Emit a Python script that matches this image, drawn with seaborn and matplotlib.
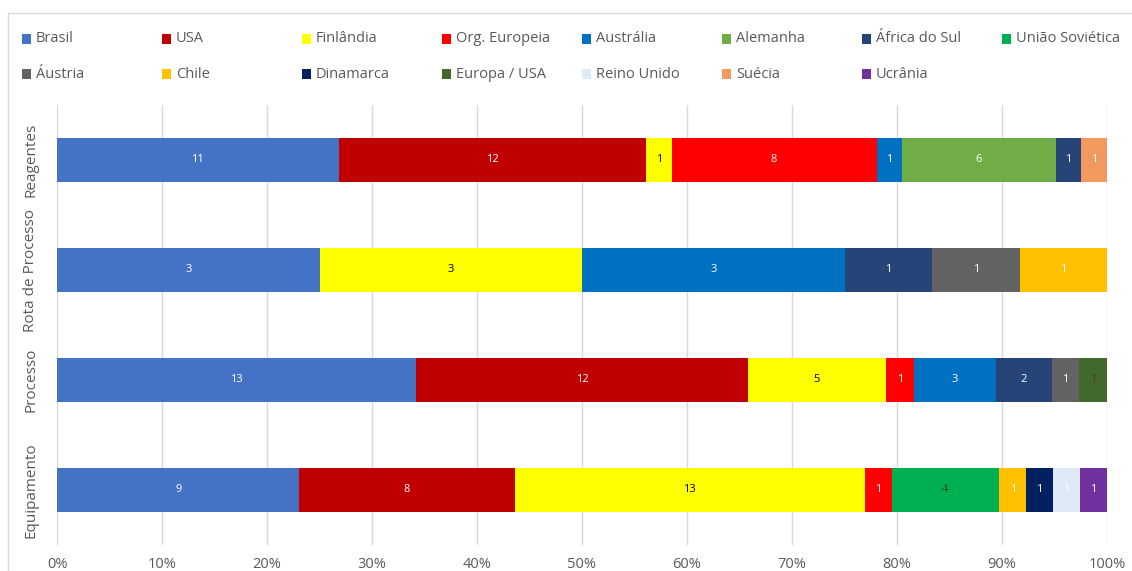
import numpy as np
import pandas as pd
import matplotlib
matplotlib.use("Agg")
import matplotlib.pyplot as plt
from matplotlib.patches import Rectangle
from matplotlib.lines import Line2D
from matplotlib.ticker import PercentFormatter
import seaborn as sns

# Categories (top to bottom)
categories = ["Reagentes", "Rota de Processo", "Processo", "Equipamento"]

# Counts per origin, in category order
brasil = [11, 3, 13, 9]
usa = [12, 0, 12, 8]
finlandia = [1, 3, 5, 13]
org_europeia = [8, 0, 1, 1]
australia = [1, 3, 3, 0]
alemanha = [6, 0, 0, 0]
africa_do_sul = [1, 1, 2, 0]
uniao_sovietica = [0, 0, 0, 4]
austria = [0, 1, 1, 0]
chile = [0, 1, 0, 1]
dinamarca = [0, 0, 0, 1]
europa_usa = [0, 0, 1, 0]
reino_unido = [0, 0, 0, 1]
suecia = [1, 0, 0, 0]
ucrania = [0, 0, 0, 1]

series_names = ["Brasil", "USA", "Finlândia", "Org. Europeia", "Austrália",
                "Alemanha", "África do Sul", "União Soviética", "Áustria",
                "Chile", "Dinamarca", "Europa / USA", "Reino Unido", "Suécia",
                "Ucrânia"]
series_values = [brasil, usa, finlandia, org_europeia, australia, alemanha,
                 africa_do_sul, uniao_sovietica, austria, chile, dinamarca,
                 europa_usa, reino_unido, suecia, ucrania]
series_colors = ["#4472C4", "#C00000", "#FFFF00", "#FF0000", "#0070C0",
                 "#70AD47", "#264478", "#00B050", "#636363", "#FFC000",
                 "#002060", "#43682B", "#DEEBF7", "#F19A5F", "#7030A0"]
label_colors = ["white", "white", "black", "white", "white",
                "white", "white", "#404040", "white", "white",
                "white", "#404040", "white", "white", "white"]

counts = np.array(series_values, dtype=float)          # (series, category)
totals = counts.sum(axis=0)
shares = counts / totals
cum = np.cumsum(shares, axis=0)

sns.set_theme(style="white")
plt.rcParams["font.family"] = ["Open Sans", "DejaVu Sans"]

fig = plt.figure(figsize=(11.32, 5.71), dpi=100)
ax = fig.add_axes([57 / 1132, 1 - 545 / 571, 1050 / 1132, 440 / 571])

# Stacked 100% bars: draw cumulative shares from the last series back to the first
for i in range(len(series_names) - 1, -1, -1):
    df = pd.DataFrame({"cat": categories, "share": cum[i]})
    sns.barplot(data=df, x="share", y="cat", order=categories, orient="h",
                color=series_colors[i], saturation=1, width=0.4,
                edgecolor="none", linewidth=0, ax=ax, zorder=3)

# Count labels centred in each segment
for i, name in enumerate(series_names):
    for j in range(len(categories)):
        v = counts[i, j]
        if v > 0:
            xc = cum[i, j] - shares[i, j] / 2
            ax.text(xc, j, f"{int(v)}", ha="center", va="center",
                    fontsize=8, color=label_colors[i], zorder=5)

ax.set_xlim(0, 1)
ax.set_ylim(3.5, -0.5)
ax.set_xticks(np.arange(0, 1.01, 0.1))
ax.xaxis.set_major_formatter(PercentFormatter(1.0, decimals=0))
ax.grid(axis="x", color="#D9D9D9", linewidth=1, zorder=0)
ax.grid(axis="y", visible=False)
ax.set_axisbelow(True)
for s in ax.spines.values():
    s.set_visible(False)
ax.set_xlabel("")
ax.set_ylabel("")
ax.tick_params(axis="x", length=0, pad=9, labelsize=10.5, labelcolor="#595959")
ax.tick_params(axis="y", length=0, pad=19, labelsize=11, labelcolor="#595959")
for t in ax.get_yticklabels():
    t.set_rotation(90)
    t.set_va("center")
    t.set_ha("center")

# Legend: two rows of eight entries with fixed column spacing
legend_order = ["Brasil", "USA", "Finlândia", "Org. Europeia", "Austrália",
                "Alemanha", "África do Sul", "União Soviética",
                "Áustria", "Chile", "Dinamarca", "Europa / USA", "Reino Unido",
                "Suécia", "Ucrânia"]
col_w = 140 / 1132
for k, name in enumerate(legend_order):
    idx = series_names.index(name)
    row, col = divmod(k, 8)
    x0 = 22 / 1132 + col * col_w
    yc = 1 - (39 + row * 35) / 571
    fig.patches.append(Rectangle((x0, yc - 4.5 / 571), 9 / 1132, 9 / 571,
                                 transform=fig.transFigure,
                                 facecolor=series_colors[idx], edgecolor="none"))
    fig.text(x0 + 14 / 1132, yc, name, ha="left", va="center",
             fontsize=10.5, color="#595959")

# Chart area border
fig.add_artist(Line2D([8 / 1132, 1], [1 - 13 / 571] * 2, transform=fig.transFigure,
                      color="#D9D9D9", linewidth=1))
fig.add_artist(Line2D([8 / 1132] * 2, [0, 1 - 13 / 571], transform=fig.transFigure,
                      color="#D9D9D9", linewidth=1))

fig.savefig("out.png", dpi=100)
